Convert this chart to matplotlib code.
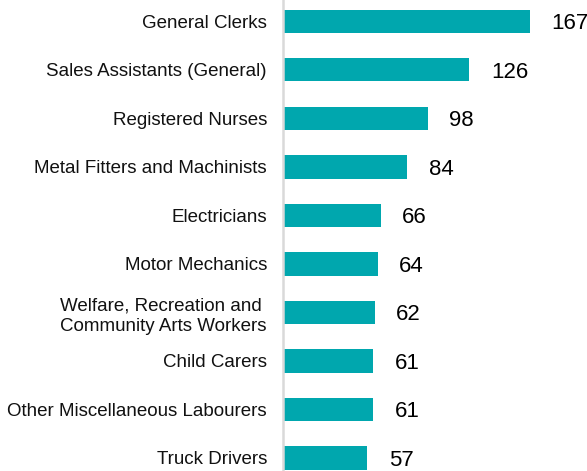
import matplotlib.pyplot as plt

plt.rcParams['font.family'] = ['Liberation Sans', 'DejaVu Sans']

occupations = ['General Clerks', 'Sales Assistants (General)', 'Registered Nurses',
               'Metal Fitters and Machinists', 'Electricians', 'Motor Mechanics',
               'Welfare, Recreation and \nCommunity Arts Workers', 'Child Carers',
               'Other Miscellaneous Labourers', 'Truck Drivers']
values = [167, 126, 98, 84, 66, 64, 62, 61, 61, 57]

fig = plt.figure(figsize=(5.87, 4.71), dpi=100)
ax = fig.add_axes([0.482, 0.0, 0.518, 1.0])

ypos = list(range(len(values)))
ax.barh(ypos, values, height=0.48, color='#00A7AE')

for y, v in zip(ypos, values):
    ax.annotate(str(v), xy=(v, y), xytext=(15.5, 0), textcoords='offset points',
                va='center_baseline', ha='left', fontsize=16, color='#000000')

ax.set_yticks(ypos)
ax.set_yticklabels(occupations, fontsize=13.5, color='#111111',
                   multialignment='center', linespacing=1.3)
ax.tick_params(axis='y', length=0, pad=11.5)
ax.set_ylim(9.27, -0.44)
ax.set_xlim(0, 205.5)

ax.set_xticks([])
for s in ['top', 'right', 'bottom']:
    ax.spines[s].set_visible(False)
ax.spines['left'].set_color('#d9d9d9')
ax.spines['left'].set_linewidth(1.8)

fig.savefig('out.png', dpi=100)
